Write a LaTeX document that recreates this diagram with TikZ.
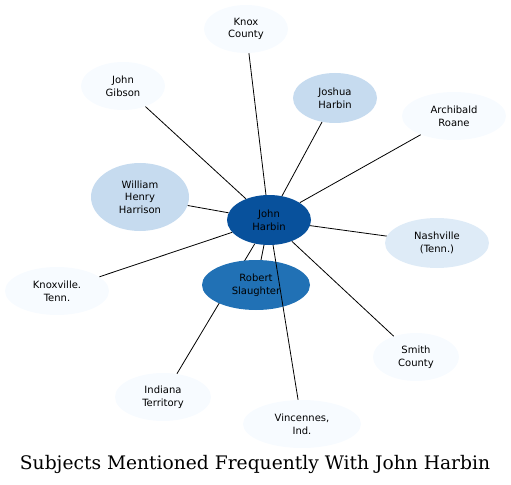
\documentclass[tikz,border=0pt]{standalone}
\usepackage{fontspec}
\setmainfont{DejaVu Serif}
\newfontfamily\nodefont{DejaVu Sans}
\usetikzlibrary{shapes.geometric}
\definecolor{hbpale}{HTML}{F7FBFF}
\definecolor{hblight}{HTML}{DEEBF7}
\definecolor{hbsoft}{HTML}{C6DBEF}
\definecolor{hbmid}{HTML}{2171B5}
\definecolor{hbdark}{HTML}{08519C}

\begin{document}
\begin{tikzpicture}[x=0.75pt, y=-0.75pt,
        subj/.style={ellipse, inner sep=0pt, align=center,
                     font=\nodefont\fontsize{7.5}{9.5}\selectfont,
                     minimum width=63pt, minimum height=36pt},
        link/.style={line width=0.6pt},
      ]
        \useasboundingbox (0,0) rectangle (511,485);

        \node[subj, fill=hbdark, minimum height=37.5pt] (harbin) at (269,220) {John\\Harbin};
        \node[subj, fill=hbpale, minimum width=72pt] (indiana) at (163,397) {Indiana\\Territory};
        \draw[link] (harbin) -- (indiana);
        \node[subj, fill=hbmid, minimum width=81pt, minimum height=37.5pt] (slaughter) at (256,285)
              {Robert\\Slaughter};

        \node[subj, fill=hbpale] (knox)   at (246,29)  {Knox\\County};
        \node[subj, fill=hbpale] (gibson) at (123,86)  {John\\Gibson};
        \node[subj, fill=hbsoft, minimum height=37.5pt] (joshua) at (335,98) {Joshua\\Harbin};
        \node[subj, fill=hbpale, minimum width=78pt] (roane) at (454,116) {Archibald\\Roane};
        \node[subj, fill=hbsoft, minimum width=73.5pt, minimum height=51pt] (harrison) at (140,197)
              {William\\Henry\\Harrison};
        \node[subj, fill=hblight, minimum width=78pt, minimum height=37.5pt] (nashville) at (437,243)
              {Nashville\\(Tenn.)};
        \node[subj, fill=hbpale, minimum width=78pt] (knoxville) at (57,291) {Knoxville.\\Tenn.};
        \node[subj, fill=hbpale, minimum width=64.5pt] (smith) at (416,357) {Smith\\County};
        \node[subj, fill=hbpale, minimum width=88.5pt] (vincennes) at (302,424) {Vincennes,\\Ind.};

        % spokes
        \foreach \other in {slaughter, knox, gibson, joshua, roane, harrison,
                            nashville, knoxville, smith, vincennes}
          \draw[link] (harbin) -- (\other);

        \node[font=\fontsize{14}{16}\selectfont] (title) at (255,464)
              {Subjects Mentioned Frequently With John Harbin};
      \end{tikzpicture}
\end{document}
